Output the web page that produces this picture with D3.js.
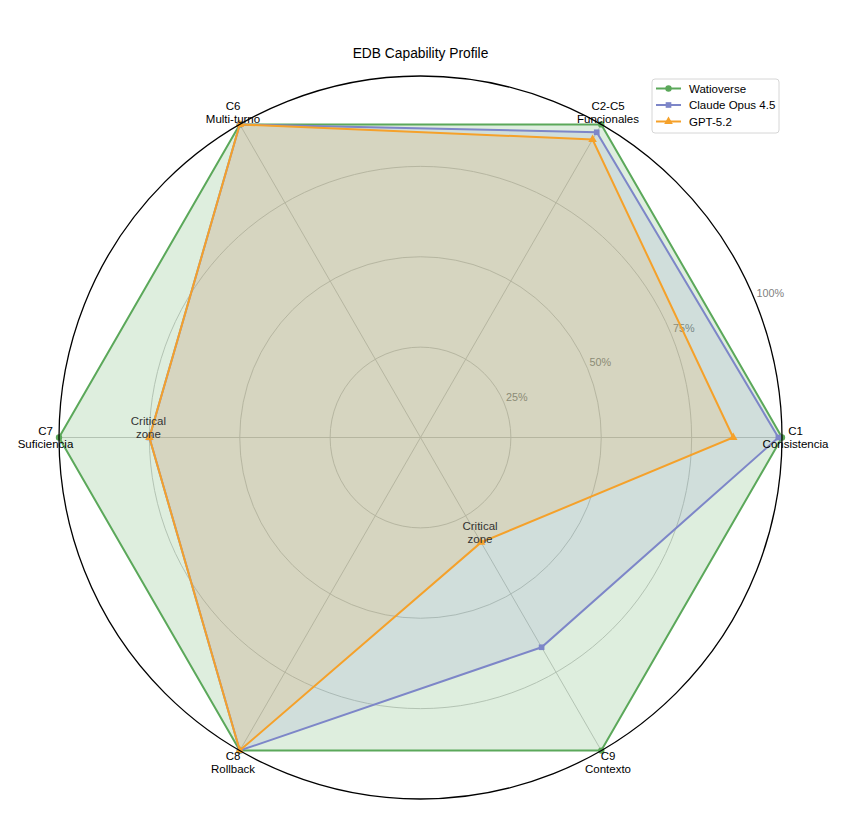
<!DOCTYPE html>
<html>
<head>
<meta charset="utf-8">
<script src="https://cdn.jsdelivr.net/npm/d3@7"></script>
<style>
  body { margin: 0; background: #fff; }
  text { font-family: "Liberation Sans", Arial, sans-serif; }
</style>
</head>
<body>
<svg id="chart" width="849" height="820"></svg>
<script>
// axis labels, counter-clockwise from the right
const axisLabels = [
  ["C1", "Consistencia"],
  ["C2-C5", "Funcionales"],
  ["C6", "Multi-turno"],
  ["C7", "Suficiencia"],
  ["C8", "Rollback"],
  ["C9", "Contexto"]
];
const seriesNames = ["Watioverse", "Claude Opus 4.5", "GPT-5.2"];
const watioverse = [1.0, 1.0, 1.0, 1.0, 1.0, 1.0];
const claude = [0.99, 0.975, 1.0, 0.75, 1.0, 0.67];
const gpt = [0.865, 0.952, 1.0, 0.75, 1.0, 0.335];
const gridTicks = [0.25, 0.5, 0.75, 1.0];
const tickLabels = ["25%", "50%", "75%", "100%"];
const criticalAxes = [3, 5];

const colors = ["#5ba85a", "#7d86c8", "#f5a12a"];
const fillAlpha = [0.2, 0.15, 0.15];
const symbols = [d3.symbolCircle, d3.symbolSquare, d3.symbolTriangle];
const allSeries = [watioverse, claude, gpt];

const svg = d3.select("#chart");
const cx = 420.5, cy = 437.5, R = 361.5;

const r = d3.scaleLinear().domain([0, 1]).range([0, R]);
// math angle (ccw from the right) per axis index
const theta = d3.scaleLinear().domain([0, axisLabels.length]).range([0, 2 * Math.PI]);
const toXY = (i, v) => [r(v) * Math.cos(theta(i)), -r(v) * Math.sin(theta(i))];

const g = svg.append("g").attr("transform", `translate(${cx},${cy})`);

// grid circles
g.selectAll("circle.grid")
  .data(gridTicks.slice(0, -1))
  .join("circle")
  .attr("class", "grid")
  .attr("r", d => r(d))
  .attr("fill", "none")
  .attr("stroke", "#c4c4c4")
  .attr("stroke-width", 0.9);

// spokes
g.selectAll("line.spoke")
  .data(axisLabels)
  .join("line")
  .attr("class", "spoke")
  .attr("x1", 0).attr("y1", 0)
  .attr("x2", (d, i) => toXY(i, 1)[0])
  .attr("y2", (d, i) => toXY(i, 1)[1])
  .attr("stroke", "#c4c4c4")
  .attr("stroke-width", 0.9);

// radial tick labels at 22.5 deg
const labelAngle = Math.PI / 8;
g.selectAll("text.rtick")
  .data(gridTicks)
  .join("text")
  .attr("class", "rtick")
  .attr("x", d => r(d) * Math.cos(labelAngle) + 2)
  .attr("y", d => -r(d) * Math.sin(labelAngle) - 2)
  .attr("font-size", 10.8)
  .attr("fill", "#7f7f7f")
  .text((d, i) => tickLabels[i]);

const radial = d3.lineRadial()
  .angle((d, i) => Math.PI / 2 - theta(i))
  .radius(d => r(d))
  .curve(d3.curveLinearClosed);

// fills and outlines
allSeries.forEach((vals, s) => {
  g.append("path")
    .attr("d", radial(vals))
    .attr("fill", colors[s])
    .attr("fill-opacity", fillAlpha[s])
    .attr("stroke", "none");
});
allSeries.forEach((vals, s) => {
  g.append("path")
    .attr("d", radial(vals))
    .attr("fill", "none")
    .attr("stroke", colors[s])
    .attr("stroke-width", 2)
    .attr("stroke-linejoin", "miter");
  g.selectAll(null)
    .data(vals)
    .join("path")
    .attr("transform", (d, i) => `translate(${toXY(i, d)})`)
    .attr("d", d3.symbol().type(symbols[s]).size(32))
    .attr("fill", colors[s]);
});

// outer frame
g.append("circle")
  .attr("r", r(1))
  .attr("fill", "none")
  .attr("stroke", "#000")
  .attr("stroke-width", 1.3);

// axis labels
const lab = g.selectAll("text.axis")
  .data(axisLabels)
  .join("text")
  .attr("class", "axis")
  .attr("text-anchor", "middle")
  .attr("font-size", 11.5)
  .attr("fill", "#000")
  .attr("transform", (d, i) => {
    const a = theta(i), rr = R + 13.5;
    return `translate(${rr * Math.cos(a)},${-rr * Math.sin(a)})`;
  });
lab.append("tspan").attr("x", 0).attr("y", -2.5).text(d => d[0]);
lab.append("tspan").attr("x", 0).attr("y", 10.5).text(d => d[1]);

// critical zone notes at lowest value on those axes
criticalAxes.forEach(i => {
  const v = d3.min(allSeries, s => s[i]);
  const [x, y] = toXY(i, v);
  const t = g.append("text")
    .attr("text-anchor", "middle")
    .attr("font-size", 11.5)
    .attr("fill", "#333");
  t.append("tspan").attr("x", x - 1).attr("y", y - 12.5).text("Critical");
  t.append("tspan").attr("x", x - 1).attr("y", y + 0.5).text("zone");
});

// title
svg.append("text")
  .attr("x", cx)
  .attr("y", 58)
  .attr("text-anchor", "middle")
  .attr("font-size", 13.8)
  .attr("fill", "#000")
  .text("EDB Capability Profile");

// legend
const lg = svg.append("g").attr("transform", "translate(652,79)");
lg.append("rect")
  .attr("width", 127).attr("height", 54)
  .attr("rx", 3)
  .attr("fill", "#fff").attr("fill-opacity", 0.8)
  .attr("stroke", "#d6d6d6");
seriesNames.forEach((name, s) => {
  const y = 9.5 + s * 16.5;
  lg.append("line")
    .attr("x1", 4).attr("x2", 29)
    .attr("y1", y).attr("y2", y)
    .attr("stroke", colors[s]).attr("stroke-width", 2);
  lg.append("path")
    .attr("transform", `translate(16.5,${y})`)
    .attr("d", d3.symbol().type(symbols[s]).size(32))
    .attr("fill", colors[s]);
  lg.append("text")
    .attr("x", 37).attr("y", y + 4)
    .attr("font-size", 11.5)
    .attr("fill", "#000")
    .text(name);
});
</script>
</body>
</html>
